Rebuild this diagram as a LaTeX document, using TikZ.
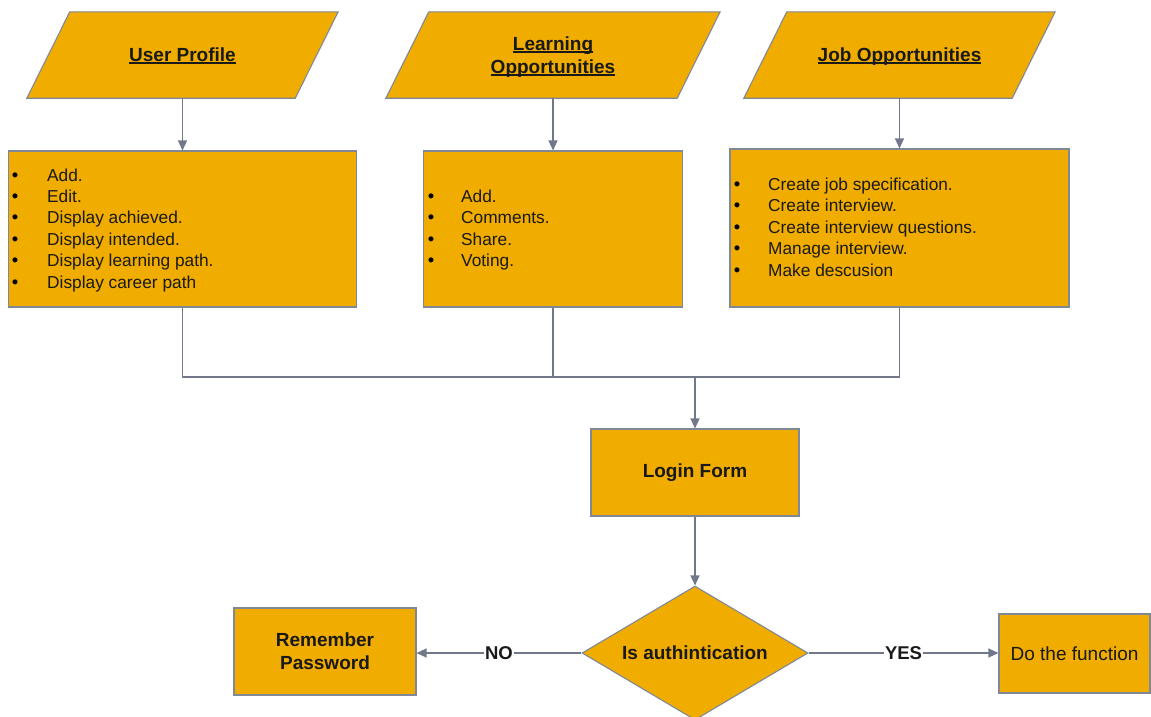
\documentclass[tikz,border=0pt]{standalone}
\usepackage{fontspec}
\setmainfont{Liberation Sans}
\usetikzlibrary{arrows.meta,shapes.geometric,calc}

\definecolor{boxfill}{HTML}{F0AD00}
\definecolor{edgegray}{RGB}{128,136,152}
\definecolor{linkgray}{RGB}{112,120,138}
\definecolor{ink}{RGB}{25,25,25}

% underline with a heavier rule than \underline
\newcommand\titleline[1]{\setbox0\hbox{#1}\leavevmode\rlap{\rule[-2.8pt]{\wd0}{1.4pt}}\box0}

\begin{document}
\begin{tikzpicture}[x=1pt,y=-1pt,
  shapebox/.style={draw=edgegray, line width=1.1pt, fill=boxfill, inner sep=0pt},
  frame/.style={rectangle, inner sep=0pt},
  procbox/.style={shapebox, rectangle, text=ink, align=center,
    font=\fontsize{19}{23}\selectfont\bfseries},
  headtxt/.style={font=\fontsize{19}{23}\selectfont\bfseries, text=ink, align=center,
    anchor=base, inner sep=0pt},
  itemtxt/.style={font=\fontsize{17.3}{21.4}\selectfont, text=ink, anchor=base west, inner sep=0pt},
  bulletdot/.style={font=\fontsize{18.5}{21.4}\selectfont, text=black, anchor=base, inner sep=0pt},
  link/.style={draw=linkgray, line width=1.3pt},
  arrowlink/.style={link, -{Triangle[length=10pt,width=9pt]}},
  edgelabel/.style={fill=white, inner sep=1pt, text=ink,
    font=\fontsize{18.5}{22}\selectfont\bfseries}
]
\useasboundingbox (0,0) rectangle (1151,716);

% ---- input parallelograms ----
\node[frame, minimum width=311pt, minimum height=86pt] (up) at (182.5,55) {};
\node[frame, minimum width=334pt, minimum height=86pt] (lo) at (553,55) {};
\node[frame, minimum width=311pt, minimum height=86pt] (jo) at (899.5,55) {};
\foreach \p in {up,lo,jo}{
  \path[shapebox] ($(\p.north west)+(43,0)$) -- (\p.north east)
    -- ($(\p.south east)+(-43,0)$) -- (\p.south west) -- cycle;
}
\node[headtxt] (upt) at (182.5,61) {\titleline{User Profile}};
\node[headtxt] (lot) at (553,73) {\titleline{Learning}\\\titleline{Opportunities}};
\node[headtxt] (jot) at (899.5,61) {\titleline{Job Opportunities}};

% ---- feature lists ----
\node[shapebox, minimum width=348pt, minimum height=156pt] (ub) at (182.5,229) {};
\node[shapebox, minimum width=259pt, minimum height=156pt] (lb) at (553,229) {};
\node[shapebox, minimum width=339pt, minimum height=158pt] (jb) at (899.5,228) {};

\foreach \t [count=\i from 0] in {Add., Edit., Display achieved., Display intended.,
    Display learning path., Display career path}{
  \node[bulletdot] (ud\i) at (15,{181+21.4*\i}) {\textbullet};
  \node[itemtxt] (ui\i) at (47,{181+21.4*\i}) {\t};
}
\foreach \t [count=\i from 0] in {Add., Comments., Share., Voting.}{
  \node[bulletdot] (ld\i) at (431,{202.4+21.4*\i}) {\textbullet};
  \node[itemtxt] (li\i) at (461,{202.4+21.4*\i}) {\t};
}
\foreach \t [count=\i from 0] in {Create job specification., Create interview.,
    Create interview questions., Manage interview., Make descusion}{
  \node[bulletdot] (jd\i) at (737,{190.5+21.4*\i}) {\textbullet};
  \node[itemtxt] (ji\i) at (768,{190.5+21.4*\i}) {\t};
}

% ---- login and decision ----
\node[procbox, minimum width=208pt, minimum height=87pt] (login) at (695,472.5) {Login Form};
\node[procbox, diamond, aspect=1.687, minimum width=226pt, minimum height=134pt] (auth) at (695,653) {Is authintication};
\node[procbox, minimum width=182pt, minimum height=87pt] (remember) at (325,651.5) {Remember\\Password};
\node[procbox, minimum width=151pt, minimum height=79pt,
  font=\fontsize{19}{23}\selectfont] (dofn) at (1074.5,653.5) {Do the function};

% ---- connectors ----
\coordinate (join) at (695,377);
\draw[arrowlink] (up.south) -- (ub.north);
\draw[arrowlink] (lo.south) -- (lb.north);
\draw[arrowlink] (jo.south) -- (jb.north);
\draw[link] (ub.south) |- (join);
\draw[link] (lb.south) |- (join);
\draw[link] (jb.south) |- (join);
\draw[arrowlink] (join) -- (login.north);
\draw[arrowlink] (login.south) -- (auth.north);
\draw[arrowlink] (auth.west) -- node[edgelabel] (no) {NO} (auth.west -| remember.east);
\draw[arrowlink] (auth.east) -- node[edgelabel] (yes) {YES} (auth.east -| dofn.west);
\end{tikzpicture}
\end{document}
